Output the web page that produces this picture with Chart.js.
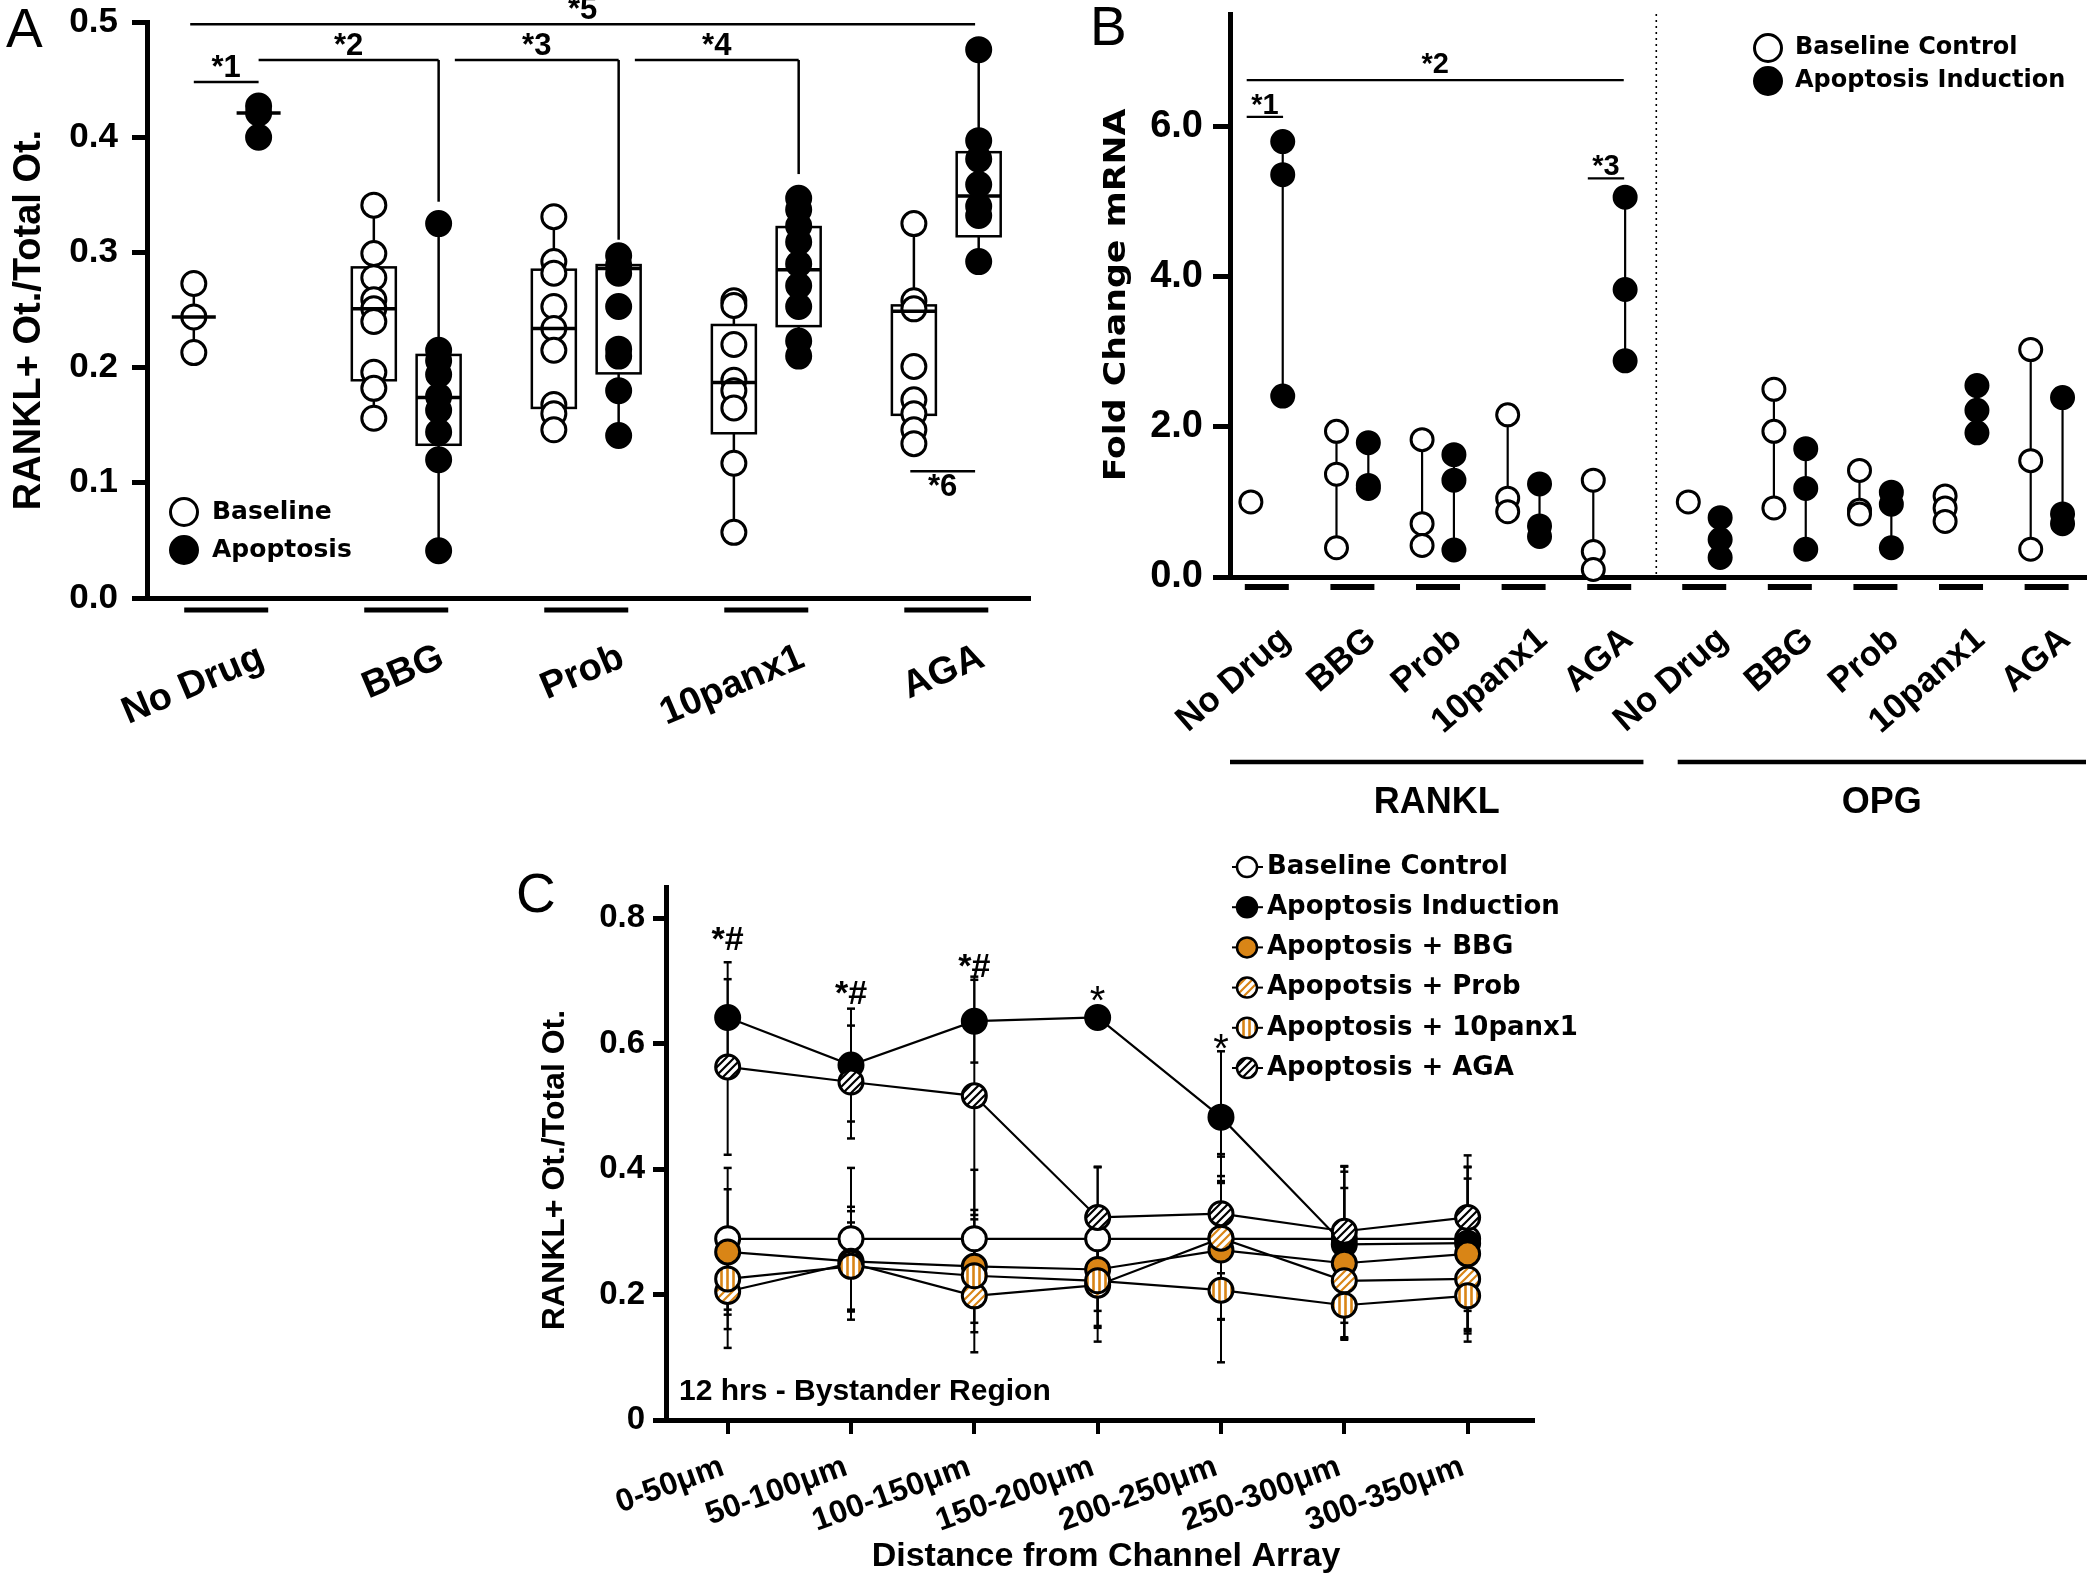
<!DOCTYPE html>
<html lang="en">
<head>
<meta charset="utf-8">
<title>RANKL / OPG panels</title>
<script src="https://cdn.jsdelivr.net/npm/chart.js@4.4.1/dist/chart.umd.min.js"></script>
<style>
  html, body { margin: 0; padding: 0; background: #fff; }
  .page { position: relative; width: 2100px; height: 1576px; }
  .page canvas { position: absolute; left: 0; top: 0; }
</style>
</head>
<body>
<div class="page">
  <canvas id="panelA" width="2100" height="1576"></canvas>
  <canvas id="panelB" width="2100" height="1576"></canvas>
  <canvas id="panelC" width="2100" height="1576"></canvas>
</div>
<script>
// --- Panel A: RANKL+ fraction per drug ---
const drugs = ['No Drug', 'BBG', 'Prob', '10panx1', 'AGA'];
const baselineA = [
  [0.273, 0.244, 0.213],
  [0.341, 0.299, 0.278, 0.259, 0.251, 0.240, 0.196, 0.182, 0.156],
  [0.331, 0.292, 0.282, 0.253, 0.234, 0.215, 0.168, 0.160, 0.146],
  [0.258, 0.254, 0.220, 0.189, 0.180, 0.165, 0.117, 0.057],
  [0.325, 0.258, 0.251, 0.201, 0.172, 0.160, 0.146, 0.134]
];
const apoptosisA = [
  [0.427, 0.421, 0.400],
  [0.325, 0.215, 0.206, 0.194, 0.175, 0.163, 0.144, 0.120, 0.041],
  [0.297, 0.289, 0.282, 0.253, 0.216, 0.210, 0.180, 0.141],
  [0.347, 0.337, 0.323, 0.309, 0.290, 0.271, 0.253, 0.223, 0.210],
  [0.476, 0.397, 0.381, 0.359, 0.340, 0.332, 0.292]
];
const baseQ1A  = [null, 0.189, 0.165, 0.143, 0.159];
const baseMedA = [0.244, 0.251, 0.234, 0.187, 0.249];
const baseQ3A  = [null, 0.287, 0.285, 0.237, 0.254];
const apoQ1A   = [null, 0.133, 0.195, 0.236, 0.314];
const apoMedA  = [0.421, 0.174, 0.286, 0.285, 0.349];
const apoQ3A   = [null, 0.211, 0.289, 0.322, 0.387];
const yTicksA  = [0, 0.1, 0.2, 0.3, 0.4, 0.5];
const sigLabelsA = ['*1', '*2', '*3', '*4', '*5', '*6'];
const sigFromA   = [-0.18, 0.18, 1.27, 2.27, -0.2, 3.8];
const sigToA     = [0.18, 1.18, 2.18, 3.18, 4.16, 4.16];
const sigYA      = [0.448, 0.467, 0.467, 0.467, 0.498, 0.110];
const sigDropA   = [null, 0.344, 0.311, 0.368, null, null];

// --- Panel B: fold change mRNA ---
const genesB = ['RANKL', 'OPG'];
const baselineB = [
  [1.00], [1.94, 1.37, 0.39], [1.83, 0.71, 0.42], [2.16, 1.05, 0.87], [1.29, 0.34, 0.10],
  [1.00], [2.50, 1.94, 0.92], [1.42, 0.89, 0.84], [1.08, 0.92, 0.74], [3.03, 1.55, 0.37]
];
const inductionB = [
  [5.80, 5.36, 2.41], [1.79, 1.22, 1.18], [1.63, 1.29, 0.36], [1.24, 0.68, 0.54], [5.06, 3.83, 2.88],
  [0.79, 0.50, 0.26], [1.71, 1.18, 0.37], [1.13, 0.97, 0.39], [2.55, 2.22, 1.92], [2.39, 0.84, 0.71]
];
const yTicksB = [0, 2, 4, 6];
const sigLabelsB = ['*1', '*2', '*3'];
const sigFromB   = [-0.235, -0.235, 3.75];
const sigToB     = [0.19, 4.17, 4.175];
const sigYB      = [6.13, 6.62, 5.31];

// --- Panel C: distance profile, 12 hrs ---
const distances = ['0-50μm', '50-100μm', '100-150μm', '150-200μm', '200-250μm', '250-300μm', '300-350μm'];
const seriesNamesC = ['Baseline Control', 'Apoptosis Induction', 'Apoptosis + BBG', 'Apopotsis + Prob', 'Apoptosis + 10panx1', 'Apoptosis + AGA'];
const baselineC  = [0.289, 0.289, 0.289, 0.289, 0.289, 0.289, 0.289];
const inductionC = [0.642, 0.566, 0.636, 0.642, 0.483, 0.280, 0.282];
const bbgC       = [0.268, 0.253, 0.245, 0.240, 0.271, 0.250, 0.265];
const probC      = [0.205, 0.250, 0.198, 0.215, 0.290, 0.222, 0.225];
const panxC      = [0.225, 0.245, 0.230, 0.222, 0.207, 0.183, 0.198];
const agaC       = [0.563, 0.539, 0.517, 0.323, 0.329, 0.301, 0.323];
const baselineErrC  = [0.113, 0.113, 0.110, 0.115, 0.100, 0.115, 0.115];
const inductionErrC = [0.088, 0.090, 0.066, 0.008, 0.105, 0.125, 0.140];
const bbgErrC       = [0.100, 0.080, 0.090, 0.090, 0.110, 0.120, 0.120];
const probErrC      = [0.090, 0.090, 0.090, 0.090, 0.130, 0.090, 0.100];
const panxErrC      = [0.080, 0.070, 0.090, 0.075, 0.115, 0.055, 0.060];
const agaErrC       = [0.140, 0.090, 0.190, 0.080, 0.095, 0.095, 0.080];
const sigLabelsC = ['*#', '*#', '*#', '*', '*', '', ''];
const sigYC      = [0.749, 0.664, 0.707, 0.647, 0.571, 0, 0];
const yTicksC    = [0, 0.2, 0.4, 0.6, 0.8];

// --- layout / style constants ---
const ARIAL = '"Liberation Sans", Arial, sans-serif';
const WIDE = '"DejaVu Sans", Verdana, sans-serif';
const ORANGE = '#D98516';
const PAIR_A = 0.18;
const PAIR_B = 0.186;
const GENE_GAP_B = 0.11;
const DIVIDER_B = 4.55;
const BOX_HALF = 22;
const Y_AXIS_W = 110;
const deg = d => d * Math.PI / 180;

// --- helpers ---
// fixed axis sizes so the plot areas land exactly where the figure has them
function pinAxis(scale) {
  if (scale.isHorizontal()) scale.height = 0; else scale.width = Y_AXIS_W;
  scale.paddingLeft = scale.paddingRight = scale.paddingTop = scale.paddingBottom = 0;
}
function strokeLine(ctx, x0, y0, x1, y1, w) {
  ctx.save();
  ctx.strokeStyle = '#000';
  ctx.lineWidth = w;
  ctx.beginPath();
  ctx.moveTo(x0, y0);
  ctx.lineTo(x1, y1);
  ctx.stroke();
  ctx.restore();
}
function drawText(ctx, str, x, y, font, opts = {}) {
  const { align = 'center', baseline = 'middle', angle = 0, stretch = 1 } = opts;
  ctx.save();
  ctx.translate(x, y);
  ctx.rotate(angle);
  ctx.scale(stretch, 1);
  ctx.font = font;
  ctx.fillStyle = '#000';
  ctx.textAlign = align;
  ctx.textBaseline = baseline;
  ctx.fillText(str, 0, 0);
  ctx.restore();
}
function drawDot(ctx, x, y, r, fill, bw) {
  ctx.save();
  ctx.beginPath();
  ctx.arc(x, y, r, 0, Math.PI * 2);
  ctx.fillStyle = fill;
  ctx.fill();
  ctx.lineWidth = bw;
  ctx.strokeStyle = '#000';
  ctx.stroke();
  ctx.restore();
}
function yAxisOpts(min, max, ticks, fmt, fontSize, tickLen, pad) {
  return {
    min, max,
    afterBuildTicks: s => { s.ticks = ticks.map(v => ({ value: v })); },
    afterFit: pinAxis,
    ticks: { callback: fmt, color: '#000', padding: pad, font: { family: ARIAL, size: fontSize, weight: 'bold' } },
    grid: { drawOnChartArea: false, drawTicks: true, tickLength: tickLen, lineWidth: 5, color: '#000' },
    border: { color: '#000', width: 5 }
  };
}
function baseOptions(area, xScale, yScale) {
  return {
    responsive: false,
    animation: false,
    devicePixelRatio: 1,
    events: [],
    layout: { padding: { left: area.left - Y_AXIS_W, top: area.top, right: 2100 - area.right, bottom: 1576 - area.bottom } },
    plugins: { legend: { display: false }, tooltip: { enabled: false } },
    scales: { x: xScale, y: yScale }
  };
}

// ================= Panel A =================
const pointsA = (vals, off) => vals.flatMap((v, g) => v.map(val => ({ x: g + off, y: val })));

const decorA = {
  id: 'decorA',
  beforeDatasetsDraw(chart) {
    const { ctx, scales: { x, y } } = chart;
    [[baselineA, baseQ1A, baseQ3A, -PAIR_A], [apoptosisA, apoQ1A, apoQ3A, PAIR_A]].forEach(([vals, q1, q3, off]) => {
      vals.forEach((v, g) => {
        const px = x.getPixelForValue(g + off);
        strokeLine(ctx, px, y.getPixelForValue(Math.min(...v)), px, y.getPixelForValue(Math.max(...v)), 2.5);
        if (q1[g] !== null) {
          const top = y.getPixelForValue(q3[g]);
          const bot = y.getPixelForValue(q1[g]);
          ctx.save();
          ctx.fillStyle = '#fff';
          ctx.strokeStyle = '#000';
          ctx.lineWidth = 2.5;
          ctx.fillRect(px - BOX_HALF, top, BOX_HALF * 2, bot - top);
          ctx.strokeRect(px - BOX_HALF, top, BOX_HALF * 2, bot - top);
          ctx.restore();
        }
      });
    });
  },
  afterDatasetsDraw(chart) {
    const { ctx, scales: { x, y } } = chart;
    [[baseMedA, -PAIR_A], [apoMedA, PAIR_A]].forEach(([meds, off]) => {
      meds.forEach((m, g) => {
        const px = x.getPixelForValue(g + off);
        const py = y.getPixelForValue(m);
        strokeLine(ctx, px - BOX_HALF, py, px + BOX_HALF, py, 3.5);
      });
    });
  },
  afterDraw(chart) {
    const { ctx, chartArea: area, scales: { x, y } } = chart;
    // significance brackets
    sigLabelsA.forEach((lab, i) => {
      const x0 = x.getPixelForValue(sigFromA[i]);
      const x1 = x.getPixelForValue(sigToA[i]);
      const py = y.getPixelForValue(sigYA[i]);
      strokeLine(ctx, x0, py, x1, py, 2.5);
      if (sigDropA[i] !== null) strokeLine(ctx, x1, py, x1, y.getPixelForValue(sigDropA[i]), 2.5);
      const below = sigYA[i] < 0.2;
      drawText(ctx, lab, (x0 + x1) / 2, below ? py + 25 : py - 5, `bold 31px ${ARIAL}`, { baseline: 'alphabetic' });
    });
    // group underline bars and rotated category labels
    drugs.forEach((d, g) => {
      const cx = x.getPixelForValue(g);
      strokeLine(ctx, cx - 42, area.bottom + 12, cx + 42, area.bottom + 12, 5);
      drawText(ctx, d, cx + 36, area.bottom + 58, `bold 38px ${ARIAL}`, { align: 'right', angle: -deg(23) });
    });
    // legend
    drawDot(ctx, area.left + 37, area.bottom - 86, 13.5, '#fff', 3);
    drawDot(ctx, area.left + 37, area.bottom - 48, 13.5, '#000', 3);
    drawText(ctx, 'Baseline', area.left + 65, area.bottom - 86, `bold 25px ${WIDE}`, { align: 'left' });
    drawText(ctx, 'Apoptosis', area.left + 65, area.bottom - 48, `bold 25px ${WIDE}`, { align: 'left' });
    // axis title and panel letter
    drawText(ctx, 'RANKL+ Ot./Total Ot.', 30, (area.top + area.bottom) / 2 + 10, `bold 38px ${ARIAL}`, { angle: -Math.PI / 2 });
    drawText(ctx, 'A', 6, 47, `55px ${ARIAL}`, { align: 'left', baseline: 'alphabetic' });
  }
};

new Chart(document.getElementById('panelA'), {
  type: 'scatter',
  data: {
    datasets: [
      { label: 'Apoptosis', data: pointsA(apoptosisA, PAIR_A), pointRadius: 12, pointBorderWidth: 3,
        pointBackgroundColor: '#000', pointBorderColor: '#000', clip: false },
      { label: 'Baseline', data: pointsA(baselineA, -PAIR_A), pointRadius: 12, pointBorderWidth: 3,
        pointBackgroundColor: '#fff', pointBorderColor: '#000', clip: false }
    ]
  },
  options: baseOptions(
    { left: 147, top: 22, right: 1030, bottom: 598 },
    { type: 'linear', min: -0.44, max: 4.465, afterFit: pinAxis, ticks: { display: false },
      grid: { display: true, drawOnChartArea: false, drawTicks: false }, border: { color: '#000', width: 5 } },
    yAxisOpts(0, 0.5, yTicksA, v => v.toFixed(1), 35, 15, 14)
  ),
  plugins: [decorA]
});

// ================= Panel B =================
const groupXB = g => (g < 5 ? g : g + GENE_GAP_B);
const pointsB = (vals, off) => vals.flatMap((v, g) => v.map(val => ({ x: groupXB(g) + off, y: val })));

const decorB = {
  id: 'decorB',
  beforeDatasetsDraw(chart) {
    const { ctx, chartArea: area, scales: { x, y } } = chart;
    // divider between RANKL and OPG
    ctx.save();
    ctx.setLineDash([2, 4]);
    strokeLine(ctx, x.getPixelForValue(DIVIDER_B), area.top, x.getPixelForValue(DIVIDER_B), area.bottom, 1.6);
    ctx.restore();
    // range lines
    [[baselineB, -PAIR_B], [inductionB, PAIR_B]].forEach(([vals, off]) => {
      vals.forEach((v, g) => {
        if (v.length < 2) return;
        const px = x.getPixelForValue(groupXB(g) + off);
        strokeLine(ctx, px, y.getPixelForValue(Math.min(...v)), px, y.getPixelForValue(Math.max(...v)), 2.2);
      });
    });
  },
  afterDraw(chart) {
    const { ctx, chartArea: area, scales: { x, y } } = chart;
    sigLabelsB.forEach((lab, i) => {
      const x0 = x.getPixelForValue(sigFromB[i]);
      const x1 = x.getPixelForValue(sigToB[i]);
      const py = y.getPixelForValue(sigYB[i]);
      strokeLine(ctx, x0, py, x1, py, 2.2);
      const wide = sigToB[i] - sigFromB[i] > 1;
      drawText(ctx, lab, (x0 + x1) / 2, wide ? py - 7 : py - 3, `bold 29px ${ARIAL}`, { baseline: 'alphabetic' });
    });
    const labels = [...drugs, ...drugs];
    labels.forEach((d, g) => {
      const cx = x.getPixelForValue(groupXB(g));
      strokeLine(ctx, cx - 22, area.bottom + 10, cx + 22, area.bottom + 10, 6);
      drawText(ctx, d, cx + 19, area.bottom + 58, `bold 35px ${ARIAL}`, { align: 'right', angle: -deg(41) });
    });
    genesB.forEach((gene, k) => {
      const x0 = k === 0 ? area.left : x.getPixelForValue(4.8);
      const x1 = k === 0 ? x.getPixelForValue(4.4) : area.right;
      strokeLine(ctx, x0, area.bottom + 185, x1, area.bottom + 185, 4.5);
      drawText(ctx, gene, (x0 + x1) / 2, area.bottom + 226, `bold 36px ${ARIAL}`);
    });
    // legend
    drawDot(ctx, 1768, 48, 13.5, '#fff', 3);
    drawDot(ctx, 1768, 81, 13.5, '#000', 3);
    drawText(ctx, 'Baseline Control', 1795, 48, `bold 24px ${WIDE}`, { align: 'left' });
    drawText(ctx, 'Apoptosis Induction', 1795, 81, `bold 24px ${WIDE}`, { align: 'left' });
    drawText(ctx, 'Fold Change mRNA', 1117, 295, `bold 31px ${WIDE}`, { angle: -Math.PI / 2, stretch: 1.12 });
    drawText(ctx, 'B', 1090, 45, `55px ${ARIAL}`, { align: 'left', baseline: 'alphabetic' });
  }
};

new Chart(document.getElementById('panelB'), {
  type: 'scatter',
  data: {
    datasets: [
      { label: 'Apoptosis Induction', data: pointsB(inductionB, PAIR_B), pointRadius: 11, pointBorderWidth: 3,
        pointBackgroundColor: '#000', pointBorderColor: '#000', clip: false },
      { label: 'Baseline Control', data: pointsB(baselineB, -PAIR_B), pointRadius: 11, pointBorderWidth: 3,
        pointBackgroundColor: '#fff', pointBorderColor: '#000', clip: false }
    ]
  },
  options: baseOptions(
    { left: 1230, top: 12, right: 2098, bottom: 577 },
    { type: 'linear', min: -0.43, max: 9.57, afterFit: pinAxis, ticks: { display: false },
      grid: { display: true, drawOnChartArea: false, drawTicks: false }, border: { color: '#000', width: 5 } },
    yAxisOpts(0, 7.5, yTicksB, v => v.toFixed(1), 38, 17, 10)
  ),
  plugins: [decorB]
});

// ================= Panel C =================
const ctxC = document.getElementById('panelC').getContext('2d');
function stripes(color, kind) {
  const size = kind === 'vertical' ? 6 : 8;
  const tile = document.createElement('canvas');
  tile.width = size;
  tile.height = size;
  const g = tile.getContext('2d');
  g.fillStyle = '#fff';
  g.fillRect(0, 0, size, size);
  g.strokeStyle = color;
  g.lineWidth = kind === 'vertical' ? 2.6 : 2.2;
  g.beginPath();
  if (kind === 'vertical') {
    g.moveTo(1.5, 0); g.lineTo(1.5, size);
  } else {
    g.moveTo(0, size); g.lineTo(size, 0);
    g.moveTo(-1, 1); g.lineTo(1, -1);
    g.moveTo(size - 1, size + 1); g.lineTo(size + 1, size - 1);
  }
  g.stroke();
  return ctxC.createPattern(tile, 'repeat');
}
const fillsC = ['#fff', '#000', ORANGE, stripes(ORANGE, 'diag'), stripes(ORANGE, 'vertical'), stripes('#000', 'diag')];
const valuesC = [baselineC, inductionC, bbgC, probC, panxC, agaC];
const errorsC = [baselineErrC, inductionErrC, bbgErrC, probErrC, panxErrC, agaErrC];

const decorC = {
  id: 'decorC',
  beforeDatasetsDraw(chart) {
    const { ctx, scales: { x, y } } = chart;
    valuesC.forEach((vals, s) => {
      vals.forEach((v, j) => {
        const px = x.getPixelForValue(j);
        const top = y.getPixelForValue(v + errorsC[s][j]);
        const bot = y.getPixelForValue(v - errorsC[s][j]);
        strokeLine(ctx, px, top, px, bot, 2);
        strokeLine(ctx, px - 4, top, px + 4, top, 2.5);
        strokeLine(ctx, px - 4, bot, px + 4, bot, 2.5);
      });
    });
  },
  afterDraw(chart) {
    const { ctx, chartArea: area, scales: { x, y } } = chart;
    sigLabelsC.forEach((lab, j) => {
      if (!lab) return;
      const font = lab.length > 1 ? `bold 34px ${ARIAL}` : `40px ${ARIAL}`;
      drawText(ctx, lab, x.getPixelForValue(j), y.getPixelForValue(sigYC[j]), font, { baseline: 'alphabetic' });
    });
    distances.forEach((d, j) => {
      drawText(ctx, d, x.getPixelForValue(j) - 5, area.bottom + 46, `bold 32px ${ARIAL}`, { align: 'right', angle: -deg(20) });
    });
    drawText(ctx, '12 hrs - Bystander Region', area.left + 13, area.bottom - 20, `bold 30px ${ARIAL}`, { align: 'left', baseline: 'alphabetic' });
    // legend
    seriesNamesC.forEach((name, s) => {
      const ly = 867 + s * 40.2;
      strokeLine(ctx, 1232, ly, 1263, ly, 2);
      drawDot(ctx, 1247, ly, 10, fillsC[s], 2.5);
      drawText(ctx, name, 1267, ly, `bold 26px ${WIDE}`, { align: 'left' });
    });
    drawText(ctx, 'RANKL+ Ot./Total Ot.', 555, 1170, `bold 32px ${ARIAL}`, { angle: -Math.PI / 2 });
    drawText(ctx, 'Distance from Channel Array', 1106, 1557, `bold 34px ${ARIAL}`);
    drawText(ctx, 'C', 516, 912, `55px ${ARIAL}`, { align: 'left', baseline: 'alphabetic' });
  }
};

new Chart(ctxC, {
  type: 'line',
  data: {
    datasets: valuesC.map((vals, s) => ({
      label: seriesNamesC[s],
      data: vals.map((v, j) => ({ x: j, y: v })),
      order: valuesC.length - s,
      borderColor: '#000',
      borderWidth: 2.2,
      tension: 0,
      pointRadius: 12,
      pointBorderWidth: 3,
      pointBackgroundColor: fillsC[s],
      pointBorderColor: '#000',
      clip: false
    }))
  },
  options: baseOptions(
    { left: 666, top: 887, right: 1533, bottom: 1420 },
    { type: 'linear', min: -0.5, max: 6.53, afterFit: pinAxis, ticks: { display: false },
      afterBuildTicks: s => { s.ticks = distances.map((_, j) => ({ value: j })); },
      grid: { drawOnChartArea: false, drawTicks: true, tickLength: 14, lineWidth: 4, color: '#000' },
      border: { color: '#000', width: 5 } },
    yAxisOpts(0, 0.85, yTicksC, v => (v === 0 ? '0' : v.toFixed(1)), 33, 13, 8)
  ),
  plugins: [decorC]
});
</script>
</body>
</html>
